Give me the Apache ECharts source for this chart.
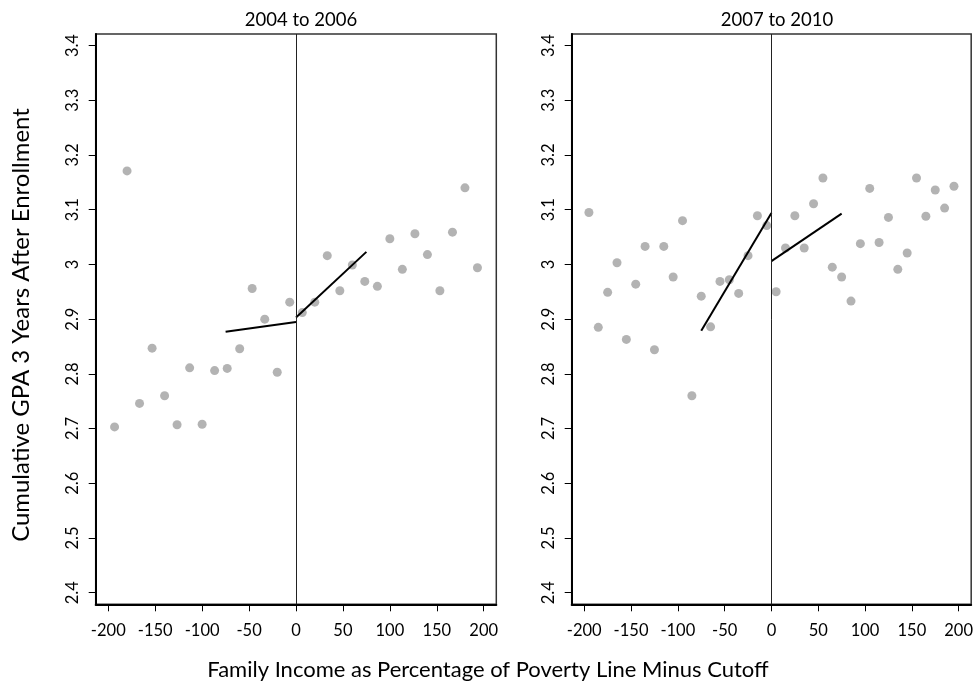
<!DOCTYPE html>
<html>
<head>
<meta charset="utf-8">
<title>Cumulative GPA by family income</title>
<script src="https://cdn.jsdelivr.net/npm/echarts@6/dist/echarts.min.js"></script>
<style>
  html, body { margin: 0; padding: 0; background: #fff; }
  #chart { width: 976px; height: 690px; }
</style>
</head>
<body>
<div id="chart"></div>
<script>
// Binned means, 2004 to 2006 cohorts
const incomeBins0406 = [-193.3, -180, -166.7, -153.3, -140, -126.7, -113.3, -100, -86.7, -73.3,
  -60, -46.7, -33.3, -20, -6.7, 6.7, 20, 33.3, 46.7, 60,
  73.3, 86.7, 100, 113.3, 126.7, 140, 153.3, 166.7, 180, 193.3];
const gpa0406 = [2.703, 3.171, 2.746, 2.847, 2.760, 2.707, 2.811, 2.708, 2.806, 2.810,
  2.846, 2.956, 2.900, 2.803, 2.931, 2.912, 2.931, 3.016, 2.952, 2.999,
  2.969, 2.960, 3.047, 2.991, 3.056, 3.018, 2.952, 3.059, 3.140, 2.994];

// Binned means, 2007 to 2010 cohorts
const incomeBins0710 = [-195, -185, -175, -165, -155, -145, -135, -125, -115, -105,
  -95, -85, -75, -65, -55, -45, -35, -25, -15, -5,
  5, 15, 25, 35, 45, 55, 65, 75, 85, 95,
  105, 115, 125, 135, 145, 155, 165, 175, 185, 195];
const gpa0710 = [3.095, 2.885, 2.949, 3.003, 2.863, 2.964, 3.033, 2.844, 3.033, 2.977,
  3.080, 2.760, 2.942, 2.886, 2.969, 2.972, 2.947, 3.016, 3.089, 3.071,
  2.950, 3.030, 3.089, 3.030, 3.111, 3.158, 2.995, 2.977, 2.933, 3.038,
  3.139, 3.040, 3.086, 2.991, 3.021, 3.158, 3.088, 3.136, 3.103, 3.143];

// Local linear fits on each side of the cutoff: [x, y] endpoints
const fitBelow0406 = [[-75, 2.877], [0, 2.895]];
const fitAbove0406 = [[0, 2.903], [75, 3.023]];
const fitBelow0710 = [[-75, 2.879], [0, 3.094]];
const fitAbove0710 = [[0, 3.006], [75, 3.093]];

const xTicks = [-200, -150, -100, -50, 0, 50, 100, 150, 200];
const yTicks = [2.4, 2.5, 2.6, 2.7, 2.8, 2.9, 3.0, 3.1, 3.2, 3.3, 3.4];
const panelTitles = ['2004 to 2006', '2007 to 2010'];
const xTitle = 'Family Income as Percentage of Poverty Line Minus Cutoff';
const yTitle = 'Cumulative GPA 3 Years After Enrollment';

const FONT = 'Lato';
const X_MIN = -213.4, X_MAX = 213.4;
const Y_MIN = 2.3788, Y_MAX = 3.4212;

// Size the outer axis titles from the font's own metrics
const measureCtx = document.createElement('canvas').getContext('2d');
function textWidth(text, size) {
  measureCtx.font = size + 'px ' + FONT;
  return measureCtx.measureText(text).width;
}
const Y_TITLE_LEN = 434;          // span of the vertical title, px
const Y_TITLE_CENTER = 325;
const X_TITLE_CENTER = 488;
const X_TITLE_WORD2 = 229;        // where the text after "Fa" begins, px
const yTitleSize = Math.min(26, Math.max(16, 100 * Y_TITLE_LEN / textWidth(yTitle, 100)));
const xTitleSize = Math.min(26, Math.max(16,
  100 * (X_TITLE_CENTER - X_TITLE_WORD2) / (textWidth(xTitle, 100) / 2 - textWidth('Fa', 100))));

function pairs(xs, ys) { return xs.map((x, i) => [x, ys[i]]); }

function xAxisFor(idx) {
  return {
    type: 'value', gridIndex: idx, min: X_MIN, max: X_MAX,
    splitLine: { show: false },
    axisLine: { show: true, onZero: false, lineStyle: { color: '#000', width: 2 } },
    axisTick: { show: true, customValues: xTicks, length: 7, inside: false, lineStyle: { color: '#000', width: 1 } },
    axisLabel: { customValues: xTicks, margin: 18, color: '#000', fontFamily: FONT, fontSize: 16.5,
      formatter: v => String(v) }
  };
}
function yAxisFor(idx) {
  return {
    type: 'value', gridIndex: idx, min: Y_MIN, max: Y_MAX,
    splitLine: { show: false },
    axisLine: { show: true, onZero: false, lineStyle: { color: '#000', width: 2 } },
    axisTick: { show: true, customValues: yTicks, length: 7, inside: false, lineStyle: { color: '#000', width: 1 } },
    axisLabel: { customValues: yTicks, rotate: 90, margin: 15, color: '#000', fontFamily: FONT, fontSize: 16.5,
      formatter: v => (Math.round(v * 10) / 10).toString() }
  };
}

function scatter(idx, data) {
  return {
    type: 'scatter', xAxisIndex: idx, yAxisIndex: idx, data: data,
    symbol: 'circle', symbolSize: 9,
    itemStyle: { color: '#a0a0a0' }, silent: true, z: 2
  };
}
function fitLine(idx, data) {
  return {
    type: 'line', xAxisIndex: idx, yAxisIndex: idx, data: data,
    showSymbol: false, symbol: 'none', silent: true,
    lineStyle: { color: '#000', width: 2 }, z: 3
  };
}
function cutoff(idx) {
  return {
    type: 'line', xAxisIndex: idx, yAxisIndex: idx, data: [],
    silent: true,
    markLine: {
      silent: true, symbol: 'none', animation: false,
      label: { show: false },
      lineStyle: { color: '#222', width: 1, type: 'solid' },
      data: [{ xAxis: 0 }]
    }
  };
}

const chart = echarts.init(document.getElementById('chart'), null, { renderer: 'canvas' });

chart.setOption({
  animation: false,
  backgroundColor: '#fff',
  textStyle: { fontFamily: FONT },
  title: [
    { text: panelTitles[0], left: 296, top: 6, textAlign: 'center',
      textStyle: { fontFamily: FONT, fontSize: 18.5, fontWeight: 'normal', color: '#000' } },
    { text: panelTitles[1], left: 772, top: 6, textAlign: 'center',
      textStyle: { fontFamily: FONT, fontSize: 18.5, fontWeight: 'normal', color: '#000' } }
  ],
  graphic: [
    { type: 'text', x: X_TITLE_CENTER, y: 670,
      style: { text: xTitle, fontFamily: FONT, fontSize: xTitleSize, fill: '#000',
        align: 'center', verticalAlign: 'middle' } },
    { type: 'text', x: 21, y: Y_TITLE_CENTER, rotation: Math.PI / 2,
      style: { text: yTitle, fontFamily: FONT, fontSize: yTitleSize, fill: '#000',
        align: 'center', verticalAlign: 'middle' } }
  ],
  grid: [
    { left: 95.7, top: 34, width: 400.6, height: 570.3, show: true,
      borderColor: '#333', borderWidth: 1.5, backgroundColor: 'transparent' },
    { left: 571.7, top: 34, width: 400.6, height: 570.3, show: true,
      borderColor: '#333', borderWidth: 1.5, backgroundColor: 'transparent' }
  ],
  xAxis: [xAxisFor(0), xAxisFor(1)],
  yAxis: [yAxisFor(0), yAxisFor(1)],
  series: [
    cutoff(0),
    scatter(0, pairs(incomeBins0406, gpa0406)),
    fitLine(0, fitBelow0406),
    fitLine(0, fitAbove0406),
    cutoff(1),
    scatter(1, pairs(incomeBins0710, gpa0710)),
    fitLine(1, fitBelow0710),
    fitLine(1, fitAbove0710)
  ]
});
</script>
</body>
</html>
